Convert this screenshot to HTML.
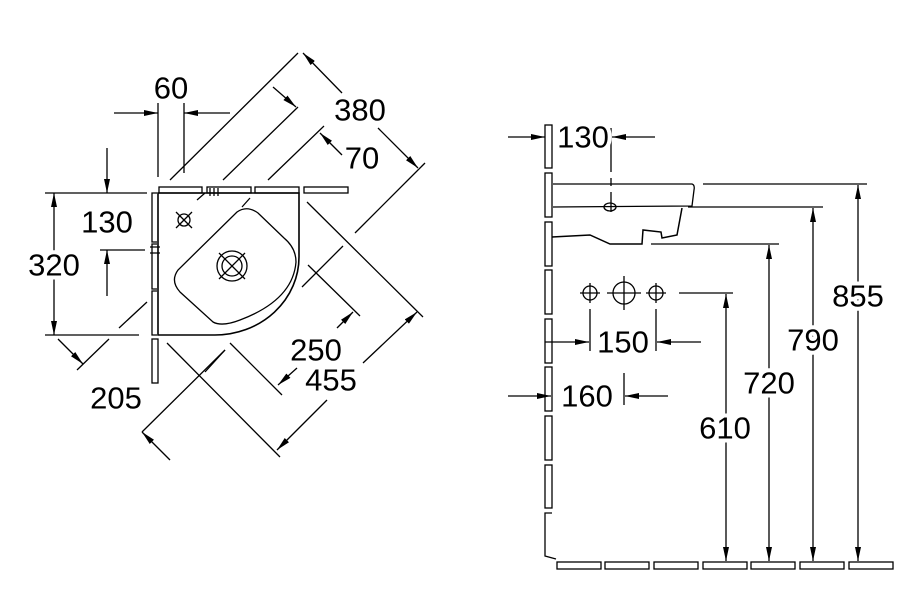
<!DOCTYPE html>
<html><head><meta charset="utf-8"><style>
html,body{margin:0;padding:0;background:#fff;}
svg{display:block;}
text{font-family:"Liberation Sans",sans-serif;font-size:31px;fill:#000;text-anchor:middle;dominant-baseline:central;stroke:#fff;stroke-width:8px;paint-order:stroke;}
</style></head><body>
<svg width="922" height="604" viewBox="0 0 922 604" xmlns="http://www.w3.org/2000/svg">
<defs>
<marker id="a" viewBox="0 0 14 6" refX="14" refY="3" markerWidth="14" markerHeight="6" markerUnits="userSpaceOnUse" orient="auto"><path d="M0,0 L14,3 L0,6 Z" fill="#000"/></marker>
</defs>
<g fill="none" stroke="#000" stroke-width="1.3">
<rect x="159" y="187" width="43" height="6"/>
<rect x="207" y="187" width="44" height="6"/>
<rect x="255" y="187" width="44" height="6"/>
<rect x="304" y="187" width="44" height="6"/>
<path d="M157,193 L152,193 L152,242 L157,242"/>
<path d="M157,244 L152,244 L152,289 L157,289"/>
<path d="M157,291 L152,291 L152,335 L157,335"/>
<rect x="152" y="339" width="6" height="44"/>
<path d="M158,193 L299,193 L299,257 A84,78 0 0 1 215,335 L158,335 Z" stroke-width="1.6"/>
<path d="M237,212 Q247,205 258,213 L284,238 Q296,248 296,262 Q293,300 240,320 Q222,327 213,322 L180,292 Q170,281 178,270 Z"/>
<circle cx="232" cy="266" r="15"/><circle cx="232" cy="266" r="10"/>
<path d="M219,253 L245,279 M245,253 L219,279"/>
<circle cx="184" cy="220" r="6"/>
<path d="M176,212 L192,228 M192,212 L176,228"/>
<path d="M210,188 L210,196 M214,188 L214,196 M218,188 L218,196 M150,247 L160,247 M150,253 L160,253"/>
<path d="M197,200 L205,193 M242,207 L250,198"/>
<path d="M158,103 L158,177 M184,103 L184,173"/>
<path d="M114,113 L158,113" marker-end="url(#a)"/>
<path d="M230,113 L184,113" marker-end="url(#a)"/>
<path d="M45,193 L147,193 M45,335 L139,335 M100,250 L145,250"/>
<path d="M107,148 L107,193" marker-end="url(#a)"/>
<path d="M107,296 L107,250" marker-end="url(#a)"/>
<path d="M54,265 L54,193" marker-end="url(#a)"/>
<path d="M54,265 L54,335" marker-end="url(#a)"/>
<path d="M77,370 L109,339 M119,328 L147,302"/>
<path d="M58,339 L83,364" marker-end="url(#a)"/>
<path d="M142,432 L225,350"/>
<path d="M170,460 L142,432" marker-end="url(#a)"/>
<path d="M170,180 L298,53"/>
<path d="M342,93 L303,53" marker-end="url(#a)"/>
<path d="M378,128 L418,168" marker-end="url(#a)"/>
<path d="M425,163 L355,233"/>
<path d="M223,180 L298,107 M268,180 L324,126"/>
<path d="M273,87 L296,107" marker-end="url(#a)"/>
<path d="M342,155 L320,133" marker-end="url(#a)"/>
<path d="M307,202 L423,317 M167,343 L280,457"/>
<path d="M363,363 L417,312" marker-end="url(#a)"/>
<path d="M327,400 L277,450" marker-end="url(#a)"/>
<path d="M308,265 L360,316 M230,343 L282,395"/>
<path d="M337,328 L353,312" marker-end="url(#a)"/>
<path d="M297,368 L278,385" marker-end="url(#a)"/>
<path d="M302,287 L343,246 M205,372 L225,350"/>

<rect x="545" y="125" width="7" height="43"/>
<rect x="545" y="173" width="7" height="44"/>
<rect x="545" y="222" width="7" height="44"/>
<rect x="545" y="270" width="7" height="44"/>
<rect x="545" y="319" width="7" height="44"/>
<rect x="545" y="367" width="7" height="44"/>
<rect x="545" y="416" width="7" height="44"/>
<rect x="545" y="465" width="7" height="43"/>
<path d="M552,513 L545,513 L545,556 L556,559"/>
<rect x="557" y="562" width="44" height="7"/>
<rect x="605" y="562" width="44" height="7"/>
<rect x="654" y="562" width="44" height="7"/>
<rect x="703" y="562" width="44" height="7"/>
<rect x="751" y="562" width="44" height="7"/>
<rect x="800" y="562" width="44" height="7"/>
<rect x="849" y="562" width="44" height="7"/>
<path d="M553,184 L692,184 Q695,185 694,190 L692,206 L553,207"/>
<path d="M682,208 L677,235 L662,238 L661,232 L643,230 L642,244 L610,244 L590,235 L552,237" stroke-width="1.5"/>
<ellipse cx="610" cy="207" rx="6" ry="4"/>
<path d="M611,128 L611,172 M611,178 L611,186 M611,192 L611,212" />
<path d="M703,184 L867,184 M688,207 L823,207 M651,244 L779,244 M679,293 L733,293"/>
<path d="M508,137 L545,137" marker-end="url(#a)"/>
<path d="M655,137 L612,137" marker-end="url(#a)"/>
<circle cx="590" cy="293" r="7"/><circle cx="624" cy="293" r="11"/><circle cx="656" cy="293" r="7"/>
<path d="M580,293 L600,293 M590,283 L590,303 M607,293 L641,293 M624,276 L624,310 M646,293 L666,293 M656,283 L656,303"/>
<path d="M590,309 L590,351 M656,309 L656,351"/>
<path d="M545,342 L589,342" marker-end="url(#a)"/>
<path d="M701,342 L657,342" marker-end="url(#a)"/>
<path d="M624,373 L624,405"/>
<path d="M508,396 L551,396" marker-end="url(#a)"/>
<path d="M668,396 L625,396" marker-end="url(#a)"/>
<path d="M726,427 L726,294" marker-end="url(#a)"/><path d="M726,427 L726,561" marker-end="url(#a)"/>
<path d="M769,383 L769,245" marker-end="url(#a)"/><path d="M769,383 L769,561" marker-end="url(#a)"/>
<path d="M813,340 L813,208" marker-end="url(#a)"/><path d="M813,340 L813,561" marker-end="url(#a)"/>
<path d="M858,295 L858,185" marker-end="url(#a)"/><path d="M858,295 L858,561" marker-end="url(#a)"/>
</g>
<text x="171" y="88">60</text>
<text x="107" y="222">130</text>
<text x="54" y="265">320</text>
<text x="116" y="398">205</text>
<text x="360" y="110">380</text>
<text x="362" y="158">70</text>
<text x="316" y="350">250</text>
<text x="331" y="380">455</text>
<text x="583" y="137">130</text>
<text x="623" y="342">150</text>
<text x="587" y="396">160</text>
<text x="725" y="428">610</text>
<text x="769" y="383">720</text>
<text x="813" y="340">790</text>
<text x="858" y="296">855</text>
</svg>
</body></html>
